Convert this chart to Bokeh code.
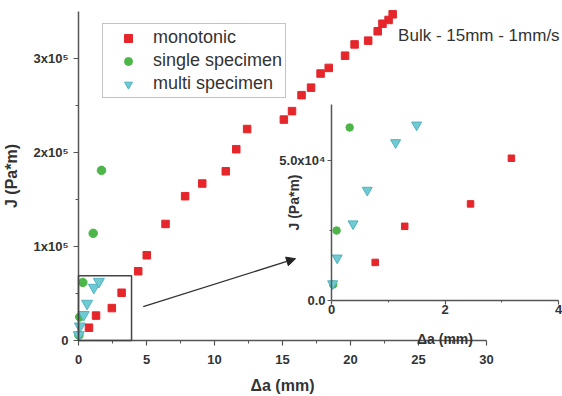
from bokeh.plotting import figure
from bokeh.models import (Range1d, LinearAxis, FixedTicker, Label, Arrow,
                          NormalHead, BoxAnnotation)
from bokeh.embed import file_html
from bokeh.resources import INLINE

# ---------------- data ----------------
mono_x = [0.77, 1.29, 2.45, 3.17, 4.39, 5.02, 6.4, 7.84, 9.1, 10.83, 11.6, 12.4,
          15.1, 15.7, 16.4, 17.1, 17.8, 18.4, 19.6, 20.3, 21.3, 22.0, 22.35, 22.8, 23.1]
mono_j = [13600, 26500, 34500, 50800, 73700, 90700, 124000, 153500, 167000, 180000,
          203500, 225000, 235000, 244000, 261000, 269000, 284000, 290000, 303000,
          315000, 319000, 329000, 337000, 341000, 347000]
single_x = [0.03, 0.09, 0.32, 1.08, 1.69]
single_j = [5700, 25000, 61800, 114000, 181000]
multi_x = [0.02, 0.10, 0.38, 0.63, 1.13, 1.50]
multi_j = [6000, 15200, 27400, 39400, 56400, 62700]

main_x_ticks = [0, 5, 10, 15, 20, 25, 30]
main_x_minor = [2.5, 7.5, 12.5, 17.5, 22.5, 27.5]
main_y_ticks = [0, 100000, 200000, 300000]
main_y_minor = [50000, 150000, 250000]
main_y_labels = ["0", "1x10⁵", "2x10⁵", "3x10⁵"]
main_x_bounds = (0, 30)
main_y_bounds = (0, 350000)

inset_x_ticks = [0, 2, 4]
inset_x_minor = [1, 3]
inset_y_ticks = [0, 50000]
inset_y_minor = [25000]
inset_y_labels = ["0.0", "5.0x10⁴"]
inset_x_bounds = (0, 4)
inset_y_bounds = (0, 70000)

zoom_box_x = [0, 3.9]
zoom_box_y = [0, 69000]

legend_labels = ["monotonic", "single specimen", "multi specimen"]
note_text = "Bulk - 15mm - 1mm/s"

# ---------------- layout (pixels) ----------------
W, H = 562, 396
FL, FR, FT, FB = 0, W, 0, H                # frame = whole canvas
X0, PXX = 78, 13.6                         # main: x=0 pixel, px per mm
Y0, PXY = 340, 94 / 1e5                    # main: y=0 pixel, px per unit
IX0, IPXX = 331, 56.75                     # inset
IY0, IPXY = 300, 140 / 5e4

RED = "#e5262b"
GREEN = "#4cb748"
CYAN = "#6fcad3"
CYAN_LINE = "#4fb2bd"
AX = "#555555"
TXT = "#333333"
FONT = "Liberation Sans"

p = figure(width=W, height=H, output_backend="svg", toolbar_location=None,
           x_range=Range1d((FL - X0) / PXX, (FR - X0) / PXX),
           y_range=Range1d((Y0 - FB) / PXY, (Y0 - FT) / PXY),
           x_axis_type=None, y_axis_type=None,
           min_border_left=0, min_border_right=0,
           min_border_top=0, min_border_bottom=0)
p.outline_line_color = None
p.background_fill_color = "white"
p.border_fill_color = "white"
p.extra_x_ranges = {"ix": Range1d((FL - IX0) / IPXX, (FR - IX0) / IPXX)}
p.extra_y_ranges = {"iy": Range1d((IY0 - FB) / IPXY, (IY0 - FT) / IPXY)}


def style_axis(ax, tick_size, label_size, tick_out, minor_out, standoff, label_standoff):
    ax.axis_line_color = AX
    ax.axis_line_width = 1.5
    ax.major_tick_line_color = AX
    ax.minor_tick_line_color = AX
    ax.major_tick_line_width = 1.2
    ax.minor_tick_line_width = 1.0
    ax.major_tick_in = 0
    ax.major_tick_out = tick_out
    ax.minor_tick_in = 0
    ax.minor_tick_out = minor_out
    ax.major_label_text_font = FONT
    ax.major_label_text_font_style = "bold"
    ax.major_label_text_font_size = tick_size
    ax.major_label_text_color = TXT
    ax.major_label_standoff = standoff
    ax.axis_label_text_font = FONT
    ax.axis_label_text_font_style = "bold"
    ax.axis_label_text_font_size = label_size
    ax.axis_label_text_color = TXT
    ax.axis_label_standoff = label_standoff


# main axes
xa = LinearAxis(ticker=FixedTicker(ticks=main_x_ticks, minor_ticks=main_x_minor),
                bounds=main_x_bounds, fixed_location=0, axis_label="Δa (mm)")
style_axis(xa, "13px", "16px", 5, 3, 9, 10)
p.add_layout(xa, "below")

ya = LinearAxis(ticker=FixedTicker(ticks=main_y_ticks, minor_ticks=main_y_minor),
                bounds=main_y_bounds, fixed_location=0, axis_label="J (Pa*m)",
                major_label_overrides=dict(zip(main_y_ticks, main_y_labels)))
style_axis(ya, "13px", "16px", 5, 3, 5, 10)
p.add_layout(ya, "left")

# inset axes
ixa = LinearAxis(x_range_name="ix", y_range_name="iy",
                 ticker=FixedTicker(ticks=inset_x_ticks, minor_ticks=inset_x_minor),
                 bounds=inset_x_bounds, fixed_location=0, axis_label="Δa (mm)")
style_axis(ixa, "13px", "14px", 4, 2, 0, 14)
p.add_layout(ixa, "below")

iya = LinearAxis(x_range_name="ix", y_range_name="iy",
                 ticker=FixedTicker(ticks=inset_y_ticks, minor_ticks=inset_y_minor),
                 bounds=inset_y_bounds, fixed_location=0, axis_label="J (Pa*m)",
                 major_label_overrides=dict(zip(inset_y_ticks, inset_y_labels)))
style_axis(iya, "13px", "14px", 4, 2, 2, -26)
p.add_layout(iya, "left")

# zoom box and arrow
p.add_layout(BoxAnnotation(left=zoom_box_x[0], right=zoom_box_x[1],
                           bottom=zoom_box_y[0], top=zoom_box_y[1],
                           fill_alpha=0, fill_color=None,
                           line_color="#444444", line_alpha=1.0, line_width=1.5))
p.add_layout(Arrow(x_start=4.76, y_start=36000, x_end=15.96, y_end=87000,
                   line_color="#333333", line_width=1.3,
                   end=NormalHead(size=9, fill_color="#222222", line_color="#222222")))

# main series
p.scatter(mono_x, mono_j, marker="square", size=7.5, fill_color=RED,
          line_color=RED, legend_label=legend_labels[0])
p.scatter(single_x, single_j, marker="circle", size=8.5, fill_color=GREEN,
          line_color=GREEN, legend_label=legend_labels[1])
p.scatter(multi_x, multi_j, marker="inverted_triangle", size=11, fill_color=CYAN,
          line_color=CYAN_LINE, legend_label=legend_labels[2])


# inset series (same data, restricted to inset window)
def clip(xs, ys):
    pts = [(x, y) for x, y in zip(xs, ys)
           if inset_x_bounds[0] <= x <= inset_x_bounds[1]
           and inset_y_bounds[0] <= y <= inset_y_bounds[1]]
    return [a for a, _ in pts], [b for _, b in pts]


mx, my = clip(mono_x, mono_j)
sx, sy = clip(single_x, single_j)
tx, ty = clip(multi_x, multi_j)
p.scatter(mx, my, marker="square", size=6.5, fill_color=RED, line_color=RED,
          x_range_name="ix", y_range_name="iy")
p.scatter(sx, sy, marker="circle", size=7.5, fill_color=GREEN, line_color=GREEN,
          x_range_name="ix", y_range_name="iy")
p.scatter(tx, ty, marker="inverted_triangle", size=10, fill_color=CYAN,
          line_color=CYAN_LINE, x_range_name="ix", y_range_name="iy")

# annotation text
p.add_layout(Label(x=23.5, y=324500, text=note_text, text_font=FONT,
                   text_font_size="17px", text_color=TXT, text_baseline="middle"))

# legend (location in pixels from the frame's bottom-left corner)
lg = p.legend[0]
lg.location = (102, H - 98)
lg.label_text_font = FONT
lg.label_text_font_size = "18px"
lg.label_text_color = TXT
lg.glyph_width = 44
lg.glyph_height = 20
lg.label_height = 20
lg.label_standoff = 3
lg.padding = 3
lg.spacing = 2
lg.margin = 0
lg.border_line_color = "#888888"
lg.border_line_width = 1
lg.background_fill_color = "white"
lg.background_fill_alpha = 1

open("out.html", "w").write(file_html(p, INLINE))
